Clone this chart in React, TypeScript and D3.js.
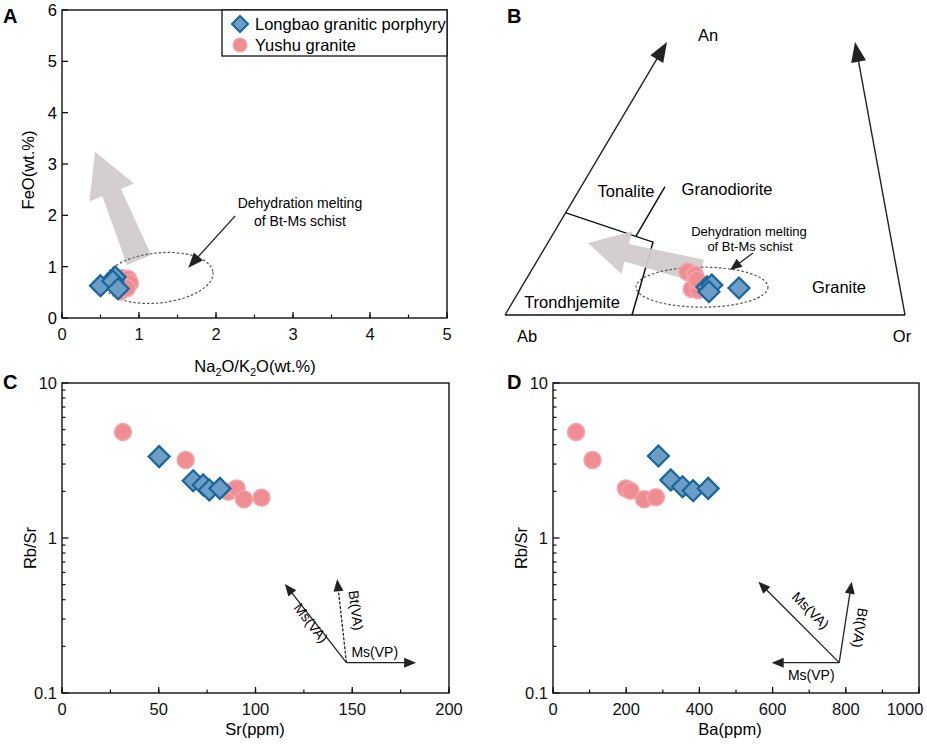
import React from 'react';
import * as d3 from 'd3';

const FONT = "'Liberation Sans', Arial, Helvetica, sans-serif";
const FS = 16.5;
const BLUE_FILL = '#6d9cc5';
const BLUE_STROKE = '#15679e';
const PINK_FILL = '#f08d93';
const PINK_STROKE = '#f4a5a9';
const GREY_ARROW = '#d2cbcf';

// ---------- Panel A: FeO vs Na2O/K2O ----------
const aLongbaoX = [0.5, 0.69, 0.66, 0.73];
const aLongbaoY = [0.63, 0.8, 0.72, 0.57];
const aYushuX = [0.78, 0.86, 0.88, 0.8, 0.76, 0.84];
const aYushuY = [0.78, 0.76, 0.68, 0.62, 0.52, 0.58];
const aXTicks = [0, 1, 2, 3, 4, 5];
const aYTicks = [0, 1, 2, 3, 4, 5, 6];

// ---------- Panel B: An-Ab-Or (normalised diagram coordinates) ----------
const bLongbaoX = [0.505, 0.517, 0.51, 0.585];
const bLongbaoY = [0.103, 0.11, 0.085, 0.099];
const bYushuX = [0.456, 0.475, 0.467, 0.483, 0.48];
const bYushuY = [0.158, 0.147, 0.095, 0.092, 0.128];

// ---------- Panel C: Rb/Sr vs Sr ----------
const cLongbaoSr = [50.2, 67.8, 73.0, 76.1, 81.6];
const cLongbaoRbSr = [3.35, 2.34, 2.2, 2.04, 2.09];
const cYushuSr = [31.5, 63.9, 85.9, 90.2, 94.0, 103.1];
const cYushuRbSr = [4.83, 3.19, 1.99, 2.09, 1.78, 1.82];
const cXTicks = [0, 50, 100, 150, 200];

// ---------- Panel D: Rb/Sr vs Ba ----------
const dLongbaoBa = [288, 322, 354, 383, 424];
const dLongbaoRbSr = [3.38, 2.37, 2.14, 2.02, 2.09];
const dYushuBa = [63, 108, 199, 212, 249, 281];
const dYushuRbSr = [4.83, 3.19, 2.09, 2.02, 1.78, 1.83];
const dXTicks = [0, 200, 400, 600, 800, 1000];

const logTicks = [0.1, 1, 10];
const logLabels = ['0.1', '1', '10'];

function diamondPath(cx: number, cy: number, r: number) {
  return `M${cx},${cy - r}L${cx + r},${cy}L${cx},${cy + r}L${cx - r},${cy}Z`;
}

function headPts(x1: number, y1: number, x2: number, y2: number, len: number, hw: number) {
  const dx = x2 - x1, dy = y2 - y1;
  const L = Math.hypot(dx, dy);
  const ux = dx / L, uy = dy / L;
  const nx = -uy, ny = ux;
  const bx = x2 - ux * len, by = y2 - uy * len;
  return `${x2},${y2} ${bx + nx * hw},${by + ny * hw} ${bx - nx * hw},${by - ny * hw}`;
}

function Arrow({ x1, y1, x2, y2, len = 12, hw = 5, sw = 1.3, dash }: any) {
  const L = Math.hypot(x2 - x1, y2 - y1);
  const ex = x2 - ((x2 - x1) / L) * (len - 2);
  const ey = y2 - ((y2 - y1) / L) * (len - 2);
  return (
    <g>
      <line x1={x1} y1={y1} x2={ex} y2={ey} stroke="#222" strokeWidth={sw} strokeDasharray={dash} />
      <polygon points={headPts(x1, y1, x2, y2, len, hw)} fill="#222" />
    </g>
  );
}

function WideArrow({ tx, ty, px, py, wTail, wNeck, headLen, headHalf }: any) {
  const dx = px - tx, dy = py - ty;
  const L = Math.hypot(dx, dy);
  const ux = dx / L, uy = dy / L;
  const nx = -uy, ny = ux;
  const bx = px - ux * headLen, by = py - uy * headLen;
  const pts = [
    [tx + nx * wTail, ty + ny * wTail],
    [bx + nx * wNeck, by + ny * wNeck],
    [bx + nx * headHalf, by + ny * headHalf],
    [px, py],
    [bx - nx * headHalf, by - ny * headHalf],
    [bx - nx * wNeck, by - ny * wNeck],
    [tx - nx * wTail, ty - ny * wTail],
  ];
  return <polygon points={pts.map((p) => p.join(',')).join(' ')} fill={GREY_ARROW} opacity={0.95} />;
}

function Points({ xs, ys, sx, sy, kind }: any) {
  return (
    <g>
      {xs.map((x: number, i: number) =>
        kind === 'circle' ? (
          <circle key={i} cx={sx(x)} cy={sy(ys[i])} r={8.5} fill={PINK_FILL} stroke={PINK_STROKE} strokeWidth={1.5} />
        ) : (
          <path key={i} d={diamondPath(sx(x), sy(ys[i]), 10.5)} fill={BLUE_FILL} stroke={BLUE_STROKE} strokeWidth={2.2} />
        )
      )}
    </g>
  );
}

function LinearXAxis({ sx, y0, ticks, minorStep, maxLabelX = 9999 }: any) {
  const [d0, d1] = sx.domain();
  const minors = d3.range(d0, d1 + 1e-9, minorStep);
  return (
    <g>
      {minors.map((v: number, i: number) => (
        <line key={'m' + i} x1={sx(v)} x2={sx(v)} y1={y0} y2={y0 - 3.5} stroke="#111" strokeWidth={1.2} />
      ))}
      {ticks.map((v: number, i: number) => (
        <g key={i}>
          <line x1={sx(v)} x2={sx(v)} y1={y0} y2={y0 - 6} stroke="#111" strokeWidth={1.3} />
          <text x={Math.min(sx(v), maxLabelX)} y={y0 + 22} textAnchor="middle" fontSize={FS} fontFamily={FONT} fill="#111">
            {String(v)}
          </text>
        </g>
      ))}
    </g>
  );
}

function LogYAxis({ sy, x0 }: any) {
  const minors: number[] = [];
  [0.1, 1].forEach((dec) => {
    for (let k = 2; k <= 9; k++) minors.push(dec * k);
  });
  return (
    <g>
      {minors.map((v, i) => (
        <line key={'m' + i} x1={x0} x2={x0 + 3.5} y1={sy(v)} y2={sy(v)} stroke="#111" strokeWidth={1.2} />
      ))}
      {logTicks.map((v, i) => (
        <g key={i}>
          <line x1={x0} x2={x0 + 6.5} y1={sy(v)} y2={sy(v)} stroke="#111" strokeWidth={1.3} />
          <text x={x0 - 5} y={sy(v) + 6} textAnchor="end" fontSize={FS} fontFamily={FONT} fill="#111">
            {logLabels[i]}
          </text>
        </g>
      ))}
    </g>
  );
}

function PanelA() {
  const sx = d3.scaleLinear().domain([0, 5]).range([62, 447]);
  const sy = d3.scaleLinear().domain([0, 6]).range([318, 10]);
  const ex = sx(1.25), ey = sy(0.78);
  return (
    <g>
      <text x={3} y={23} fontSize={20} fontWeight="bold" fontFamily={FONT}>A</text>
      <WideArrow tx={sx(1.0)} ty={sy(1.13)} px={sx(0.43)} py={sy(3.24)} wTail={13} wNeck={10} headLen={44} headHalf={24} />
      <ellipse cx={ex} cy={ey} rx={55} ry={25} fill="none" stroke="#555" strokeWidth={1.2} strokeDasharray="2.5,2" transform={`rotate(-6 ${ex} ${ey})`} />
      <Points xs={aYushuX} ys={aYushuY} sx={sx} sy={sy} kind="circle" />
      <Points xs={aLongbaoX} ys={aLongbaoY} sx={sx} sy={sy} kind="diamond" />
      <Arrow x1={sx(2.25)} y1={sy(1.99)} x2={sx(1.64)} y2={sy(0.98)} len={15} hw={6} />
      <text x={sx(3.09)} y={sy(2.14)} textAnchor="middle" fontSize={14} fontFamily={FONT}>Dehydration melting</text>
      <text x={sx(3.09)} y={sy(1.79)} textAnchor="middle" fontSize={14} fontFamily={FONT}>of Bt-Ms schist</text>
      <rect x={62} y={10} width={385} height={308} fill="none" stroke="#111" strokeWidth={1.4} />
      <LinearXAxis sx={sx} y0={318} ticks={aXTicks} minorStep={0.5} />
      {aYTicks.map((v, i) => (
        <g key={i}>
          <line x1={62} x2={68} y1={sy(v)} y2={sy(v)} stroke="#111" strokeWidth={1.3} />
          <text x={57} y={sy(v) + 6} textAnchor="end" fontSize={FS} fontFamily={FONT}>{v}</text>
        </g>
      ))}
      <text x={255} y={372} textAnchor="middle" fontSize={FS} fontFamily={FONT}>
        Na<tspan fontSize={11} dy={4}>2</tspan><tspan dy={-4}>O/K</tspan>
        <tspan fontSize={11} dy={4}>2</tspan><tspan dy={-4}>O(wt.%)</tspan>
      </text>
      <text transform={`translate(34,170) rotate(-90)`} textAnchor="middle" fontSize={FS} fontFamily={FONT}>FeO(wt.%)</text>
      {/* legend */}
      <rect x={222} y={10} width={225} height={46} fill="#fff" stroke="#111" strokeWidth={1.3} />
      <path d={diamondPath(240, 24, 8)} fill={BLUE_FILL} stroke={BLUE_STROKE} strokeWidth={2} />
      <text x={255} y={30} fontSize={FS} fontFamily={FONT}>Longbao granitic porphyry</text>
      <circle cx={240} cy={45} r={7} fill={PINK_FILL} stroke={PINK_STROKE} strokeWidth={1.2} />
      <text x={255} y={51} fontSize={FS} fontFamily={FONT}>Yushu granite</text>
    </g>
  );
}

function PanelB() {
  const sx = d3.scaleLinear().domain([0, 1]).range([505, 905]);
  const sy = d3.scaleLinear().domain([0, 1]).range([315, 42]);
  const ex = sx(0.4925), ey = sy(0.102);
  return (
    <g>
      <text x={507} y={23} fontSize={20} fontWeight="bold" fontFamily={FONT}>B</text>
      <line x1={sx(0)} y1={sy(0)} x2={sx(1)} y2={sy(0)} stroke="#111" strokeWidth={1.5} />
      <Arrow x1={sx(0)} y1={sy(0)} x2={sx(0.405)} y2={sy(1)} len={20} hw={7.5} sw={1.4} />
      <Arrow x1={sx(1)} y1={sy(0)} x2={sx(0.875)} y2={sy(1)} len={20} hw={7.5} sw={1.4} />
      <polyline points={`${sx(0.1525)},${sy(0.374)} ${sx(0.37)},${sy(0.267)} ${sx(0.3175)},${sy(0)}`} fill="none" stroke="#111" strokeWidth={1.5} />
      <line x1={sx(0.3275)} y1={sy(0.289)} x2={sx(0.4)} y2={sy(0.47)} stroke="#111" strokeWidth={1.5} />
      <WideArrow tx={sx(0.49)} ty={sy(0.16)} px={sx(0.2075)} py={sy(0.2637)} wTail={12} wNeck={9} headLen={40} headHalf={22} />
      <ellipse cx={ex} cy={ey} rx={66} ry={20} fill="none" stroke="#555" strokeWidth={1.2} strokeDasharray="2.5,2" />
      <Points xs={bYushuX} ys={bYushuY} sx={sx} sy={sy} kind="circle" />
      <Points xs={bLongbaoX} ys={bLongbaoY} sx={sx} sy={sy} kind="diamond" />
      <Arrow x1={sx(0.62)} y1={sy(0.227)} x2={sx(0.5625)} y2={sy(0.165)} len={12} hw={5} />
      <text x={749} y={236} textAnchor="middle" fontSize={13} fontFamily={FONT}>Dehydration melting</text>
      <text x={750} y={251} textAnchor="middle" fontSize={13} fontFamily={FONT}>of Bt-Ms schist</text>
      <text x={626} y={197} textAnchor="middle" fontSize={FS} fontFamily={FONT}>Tonalite</text>
      <text x={727} y={195} textAnchor="middle" fontSize={FS} fontFamily={FONT}>Granodiorite</text>
      <text x={572} y={308} textAnchor="middle" fontSize={FS} fontFamily={FONT}>Trondhjemite</text>
      <text x={839} y={293} textAnchor="middle" fontSize={FS} fontFamily={FONT}>Granite</text>
      <text x={527} y={342} textAnchor="middle" fontSize={FS} fontFamily={FONT}>Ab</text>
      <text x={902} y={342} textAnchor="middle" fontSize={FS} fontFamily={FONT}>Or</text>
      <text x={708} y={41} textAnchor="middle" fontSize={FS} fontFamily={FONT}>An</text>
    </g>
  );
}

function VecLabel({ x, y, angle, text }: any) {
  return (
    <text transform={`translate(${x},${y}) rotate(${angle})`} textAnchor="middle" fontSize={14} fontFamily={FONT}>{text}</text>
  );
}

function PanelC() {
  const sx = d3.scaleLinear().domain([0, 200]).range([62, 449]);
  const sy = d3.scaleLog().domain([0.1, 10]).range([693, 383]);
  const ox = sx(147), oy = sy(0.157);
  return (
    <g>
      <text x={3} y={389} fontSize={20} fontWeight="bold" fontFamily={FONT}>C</text>
      <Points xs={cYushuSr} ys={cYushuRbSr} sx={sx} sy={sy} kind="circle" />
      <Points xs={cLongbaoSr} ys={cLongbaoRbSr} sx={sx} sy={sy} kind="diamond" />
      <Arrow x1={ox} y1={oy} x2={sx(183)} y2={sy(0.157)} len={12} hw={5} />
      <Arrow x1={ox} y1={oy} x2={sx(115.2)} y2={sy(0.505)} len={12} hw={5} />
      <Arrow x1={ox} y1={oy} x2={sx(142.2)} y2={sy(0.541)} len={12} hw={5} dash="3,1.5" />
      <text x={ox + 5} y={oy - 6} fontSize={14} fontFamily={FONT}>Ms(VP)</text>
      <VecLabel x={307} y={626} angle={52} text="Ms(VA)" />
      <VecLabel x={351} y={611} angle={83} text="Bt(VA)" />
      <rect x={62} y={383} width={387} height={310} fill="none" stroke="#111" strokeWidth={1.4} />
      <LinearXAxis sx={sx} y0={693} ticks={cXTicks} minorStep={25} />
      <LogYAxis sy={sy} x0={62} />
      <text x={255} y={735} textAnchor="middle" fontSize={FS} fontFamily={FONT}>Sr(ppm)</text>
      <text transform={`translate(36,548) rotate(-90)`} textAnchor="middle" fontSize={FS} fontFamily={FONT}>Rb/Sr</text>
    </g>
  );
}

function PanelD() {
  const sx = d3.scaleLinear().domain([0, 1000]).range([553, 919]);
  const sy = d3.scaleLog().domain([0.1, 10]).range([693, 383]);
  const ox = sx(782), oy = sy(0.157);
  return (
    <g>
      <text x={507} y={389} fontSize={20} fontWeight="bold" fontFamily={FONT}>D</text>
      <Points xs={dYushuBa} ys={dYushuRbSr} sx={sx} sy={sy} kind="circle" />
      <Points xs={dLongbaoBa} ys={dLongbaoRbSr} sx={sx} sy={sy} kind="diamond" />
      <Arrow x1={ox} y1={oy} x2={sx(597.5)} y2={sy(0.157)} len={12} hw={5} />
      <Arrow x1={ox} y1={oy} x2={sx(561)} y2={sy(0.522)} len={12} hw={5} />
      <Arrow x1={ox} y1={oy} x2={sx(816)} y2={sy(0.522)} len={12} hw={5} />
      <text x={ox - 28} y={680} textAnchor="middle" fontSize={14} fontFamily={FONT}>Ms(VP)</text>
      <VecLabel x={ox - 32} y={614} angle={45} text="Ms(VA)" />
      <VecLabel x={ox + 16} y={627} angle={99} text="Bt(VA)" />
      <rect x={553} y={383} width={366} height={310} fill="none" stroke="#111" strokeWidth={1.4} />
      <LinearXAxis sx={sx} y0={693} ticks={dXTicks} minorStep={100} maxLabelX={905} />
      <LogYAxis sy={sy} x0={553} />
      <text x={730} y={735} textAnchor="middle" fontSize={FS} fontFamily={FONT}>Ba(ppm)</text>
      <text transform={`translate(527,548) rotate(-90)`} textAnchor="middle" fontSize={FS} fontFamily={FONT}>Rb/Sr</text>
    </g>
  );
}

export default function App() {
  return (
    <svg width={927} height={744} viewBox="0 0 927 744" style={{ position: 'absolute', left: 0, top: 0, display: 'block', background: '#fff' }}>
      <rect x={0} y={0} width={927} height={744} fill="#fff" />
      <PanelA />
      <PanelB />
      <PanelC />
      <PanelD />
    </svg>
  );
}
